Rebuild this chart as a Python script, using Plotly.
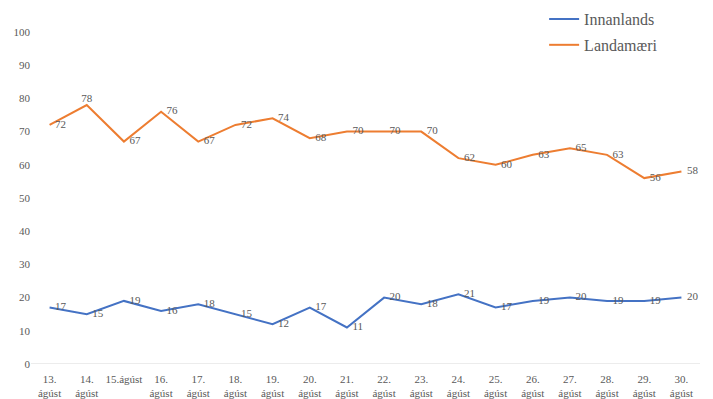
import plotly.graph_objects as go

categories = ["13.<br>ágúst", "14.<br>ágúst", "15.ágúst", "16.<br>ágúst", "17.<br>ágúst", "18.<br>ágúst",
              "19.<br>ágúst", "20.<br>ágúst", "21.<br>ágúst", "22.<br>ágúst", "23.<br>ágúst", "24.<br>ágúst",
              "25.<br>ágúst", "26.<br>ágúst", "27.<br>ágúst", "28.<br>ágúst", "29.<br>ágúst", "30.<br>ágúst"]
innanlands = [17, 15, 19, 16, 18, 15, 12, 17, 11, 20, 18, 21, 17, 19, 20, 19, 19, 20]
landamaeri = [72, 78, 67, 76, 67, 72, 74, 68, 70, 70, 70, 62, 60, 63, 65, 63, 56, 58]

land_pos = ["middle right"] * len(landamaeri)
land_pos[1] = "top center"
inn_pos = ["middle right"] * len(innanlands)

FONT = "Liberation Serif, DejaVu Serif, serif"
GRAY = "#595959"

fig = go.Figure()
fig.add_trace(go.Scatter(
    x=categories, y=innanlands, name="Innanlands", mode="lines+text",
    line=dict(color="#4472C4", width=2), text=["\u2002" + str(v) for v in innanlands],
    textposition=inn_pos, textfont=dict(family=FONT, size=11, color=GRAY),
    legendgroup="a", cliponaxis=False))
fig.add_trace(go.Scatter(
    x=categories, y=landamaeri, name="Landamæri", mode="lines+text",
    line=dict(color="#ED7D31", width=2),
    text=[("" if p == "top center" else "\u2002") + str(v) for v, p in zip(landamaeri, land_pos)],
    textposition=land_pos, textfont=dict(family=FONT, size=11, color=GRAY),
    legendgroup="b", cliponaxis=False))

# page body has an 8px default margin, so the figure is sized to fit inside the window
fig.update_layout(
    width=705, height=391,
    margin=dict(l=23, r=13, t=24, b=35, autoexpand=False),
    paper_bgcolor="white", plot_bgcolor="white",
    font=dict(family=FONT, color=GRAY, size=11),
    showlegend=True,
    legend=dict(x=0.767, y=1.09, xanchor="left", yanchor="top",
                font=dict(family=FONT, size=16, color=GRAY),
                traceorder="grouped", tracegroupgap=2,
                itemwidth=30, bgcolor="rgba(0,0,0,0)"),
    xaxis=dict(showgrid=False, showline=False, zeroline=False, ticks="", automargin=False,
               tickfont=dict(family=FONT, size=11, color=GRAY), tickangle=0,
               ticklabelstandoff=7, range=[-0.5, 17.5]),
    yaxis=dict(range=[0, 100], dtick=10, showgrid=False, zeroline=False, automargin=False,
               showline=False, ticks="", tickfont=dict(family=FONT, size=11, color=GRAY)),
    shapes=[dict(type="line", xref="paper", yref="y", x0=0, x1=1, y0=0, y1=0,
                 line=dict(color="#D9D9D9", width=1))],
)

fig.write_html("out.html")
